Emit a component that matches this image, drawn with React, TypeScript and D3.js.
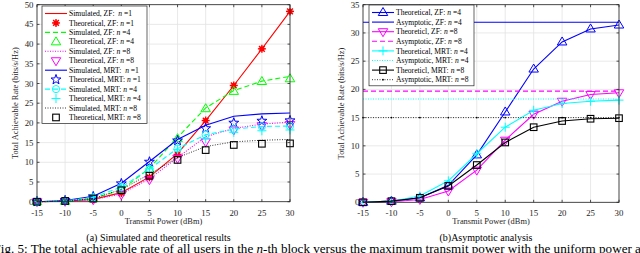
import React from 'react';
import * as d3 from 'd3';

// transmit power (dBm)
const powers = [-15, -10, -5, 0, 5, 10, 15, 20, 25, 30];

// (a) simulated vs theoretical
const simZF1 = [0, 0.1, 0.6, 2.3, 6.3, 12.2, 20.6, 29.5, 38.8, 48.3];
const theoZF1 = [0, 0.1, 0.6, 2.2, 6.2, 12.0, 20.6, 29.5, 38.8, 48.3];
const simZF4 = [0, 0.1, 0.8, 3.0, 8.5, 16.3, 23.8, 28.2, 30.6, 31.8];
const theoZF4 = [0, 0.1, 0.8, 3.0, 8.2, 16.0, 23.6, 28.0, 30.5, 31.2];
const simZF8 = [0, 0.1, 0.5, 2.0, 5.8, 11.2, 16.5, 18.6, 19.7, 20.2];
const theoZF8 = [0, 0.1, 0.5, 1.8, 5.6, 11.0, 15.2, 18.2, 19.3, 19.6];
const simMRT1 = [0, 0.3, 1.4, 4.7, 10.2, 15.8, 19.4, 21.7, 22.3, 22.5];
const theoMRT1 = [0, 0.3, 1.3, 4.6, 10.1, 15.5, 18.6, 20.0, 20.5, 20.6];
const simMRT4 = [0, 0.2, 1.1, 3.7, 8.3, 13.5, 17.0, 18.4, 19.1, 19.2];
const theoMRT4 = [0, 0.2, 1.1, 3.8, 8.3, 13.2, 16.0, 17.6, 18.0, 18.2];
const simMRT8 = [0, 0.2, 0.8, 3.1, 7.0, 11.2, 14.0, 15.2, 15.6, 15.8];
const theoMRT8 = [0, 0.2, 0.8, 2.9, 6.6, 10.6, 13.1, 14.4, 14.7, 14.8];

// (b) asymptotic analysis
const thZF4 = [0, 0.2, 0.8, 3.0, 8.4, 16.0, 23.6, 28.4, 30.7, 31.4];
const thZF8 = [0, 0.1, 0.5, 2.0, 5.7, 11.0, 15.6, 17.9, 19.1, 19.4];
const thMRT4 = [0, 0.2, 1.1, 3.8, 8.6, 13.3, 16.3, 17.5, 17.9, 18.1];
const thMRT8 = [0, 0.2, 0.8, 2.9, 6.6, 10.6, 13.3, 14.4, 14.8, 14.9];
const asymZF4 = 31.9;
const asymZF8 = 19.7;
const asymMRT4 = 18.3;
const asymMRT8 = 15.0;

const ticksA = d3.range(0, 51, 5);
const ticksB = d3.range(0, 36, 5);

const serif = '"Liberation Serif", "Times New Roman", serif';
const RED = '#ff0000', GREEN = '#00ff00', MAG = '#ff00ff', BLUE = '#0000ff', CYAN = '#00ffff', BLK = '#000000';

type MType = 'none' | 'ast' | 'tri' | 'trid' | 'star' | 'circ' | 'plus' | 'sq' | 'dot';

function Marker({ t, x, y, c }: { t: MType; x: number; y: number; c: string }) {
  const sw = 1;
  if (t === 'ast') {
    const r = 4;
    const d = r * 0.72;
    return (
      <g stroke={c} strokeWidth={1.4}>
        <line x1={x - r} y1={y} x2={x + r} y2={y} />
        <line x1={x} y1={y - r} x2={x} y2={y + r} />
        <line x1={x - d} y1={y - d} x2={x + d} y2={y + d} />
        <line x1={x - d} y1={y + d} x2={x + d} y2={y - d} />
        <circle cx={x} cy={y} r={1.8} fill={c} />
      </g>
    );
  }
  if (t === 'tri') {
    const r = 5;
    return <path d={`M${x},${y - r}L${x + r * 0.95},${y + r * 0.6}L${x - r * 0.95},${y + r * 0.6}Z`} fill="none" stroke={c} strokeWidth={sw} />;
  }
  if (t === 'trid') {
    const r = 5;
    return <path d={`M${x},${y + r}L${x + r * 0.95},${y - r * 0.6}L${x - r * 0.95},${y - r * 0.6}Z`} fill="none" stroke={c} strokeWidth={sw} />;
  }
  if (t === 'star') {
    const pts: string[] = [];
    for (let i = 0; i < 10; i++) {
      const r = i % 2 === 0 ? 5.2 : 2.1;
      const a = -Math.PI / 2 + (i * Math.PI) / 5;
      pts.push(`${x + r * Math.cos(a)},${y + r * Math.sin(a)}`);
    }
    return <path d={`M${pts.join('L')}Z`} fill="none" stroke={c} strokeWidth={sw} />;
  }
  if (t === 'circ') return <circle cx={x} cy={y} r={3.6} fill="none" stroke={c} strokeWidth={sw} />;
  if (t === 'plus') {
    const r = 4.5;
    return (
      <g stroke={c} strokeWidth={sw}>
        <line x1={x - r} y1={y} x2={x + r} y2={y} />
        <line x1={x} y1={y - r} x2={x} y2={y + r} />
      </g>
    );
  }
  if (t === 'sq') {
    const r = 3.3;
    return <rect x={x - r} y={y - r} width={2 * r} height={2 * r} fill="none" stroke={c} strokeWidth={1.1} />;
  }
  if (t === 'dot') return <circle cx={x} cy={y} r={0.9} fill={c} />;
  return null;
}

interface Series {
  label: string;
  n: string;
  values: number[];
  color: string;
  dash?: string;
  line: boolean;
  marker: MType;
  width?: number;
}

const seriesA: Series[] = [
  { label: 'Simulated, ZF:  ', n: '1', values: simZF1, color: RED, line: true, marker: 'none' },
  { label: 'Theoretical, ZF: ', n: '1', values: theoZF1, color: RED, line: false, marker: 'ast' },
  { label: 'Simulated, ZF: ', n: '4', values: simZF4, color: GREEN, dash: '5,3', line: true, marker: 'none' },
  { label: 'Theoretical, ZF: ', n: '4', values: theoZF4, color: GREEN, line: false, marker: 'tri' },
  { label: 'Simulated, ZF: ', n: '8', values: simZF8, color: MAG, dash: '1,1.5', line: true, marker: 'none' },
  { label: 'Theoretical, ZF: ', n: '8', values: theoZF8, color: MAG, line: false, marker: 'trid' },
  { label: 'Simulated, MRT:  ', n: '1', values: simMRT1, color: BLUE, line: true, marker: 'none' },
  { label: 'Theoretical, MRT: ', n: '1', values: theoMRT1, color: BLUE, line: false, marker: 'star' },
  { label: 'Simulated, MRT: ', n: '4', values: simMRT4, color: CYAN, dash: '5,3', line: true, marker: 'circ' },
  { label: 'Theoretical, MRT: ', n: '4', values: theoMRT4, color: CYAN, line: false, marker: 'plus' },
  { label: 'Simulated, MRT: ', n: '8', values: simMRT8, color: BLK, dash: '1,1.5', line: true, marker: 'none', width: 0.8 },
  { label: 'Theoretical, MRT: ', n: '8', values: theoMRT8, color: BLK, line: false, marker: 'sq' },
];

const seriesB: Series[] = [
  { label: 'Theoretical, ZF: ', n: '4', values: thZF4, color: BLUE, line: true, marker: 'tri' },
  { label: 'Asymptotic, ZF: ', n: '4', values: powers.map(() => asymZF4), color: BLUE, line: true, marker: 'none' },
  { label: 'Theoreticl, ZF: ', n: '8', values: thZF8, color: MAG, line: true, marker: 'trid' },
  { label: 'Asymptotic, ZF: ', n: '8', values: powers.map(() => asymZF8), color: MAG, dash: '5,3', line: true, marker: 'none' },
  { label: 'Theoretical, MRT: ', n: '4', values: thMRT4, color: CYAN, line: true, marker: 'plus' },
  { label: 'Asymptotic, MRT: ', n: '4', values: powers.map(() => asymMRT4), color: CYAN, dash: '1,1.5', line: true, marker: 'none' },
  { label: 'Theoreticl, MRT: ', n: '8', values: thMRT8, color: BLK, line: true, marker: 'sq' },
  { label: 'Asymptotic, MRT: ', n: '8', values: powers.map(() => asymMRT8), color: BLK, dash: '1,1.5', line: true, marker: 'dot', width: 0.8 },
];

interface PanelProps {
  x0: number; x1: number; y0: number; y1: number;
  yMax: number; yTicks: number[];
  series: Series[];
  legend: { x: number; y: number; w: number; step: number };
  caption: string;
}

function Panel({ x0, x1, y0, y1, yMax, yTicks, series, legend, caption }: PanelProps) {
  const x = d3.scaleLinear().domain([-15, 30]).range([x0, x1]);
  const y = d3.scaleLinear().domain([0, yMax]).range([y1, y0]);
  const line = d3.line<number>().x((_, i) => x(powers[i])).y(v => y(v));
  const axisCol = '#262626';
  const legH = series.length * legend.step + 4;
  return (
    <g fontFamily={serif}>
      {/* grid */}
      {powers.map(p => (
        <line key={'gx' + p} x1={x(p)} x2={x(p)} y1={y0} y2={y1} stroke="#e3e3e3" strokeWidth={0.8} />
      ))}
      {yTicks.map(t => (
        <line key={'gy' + t} x1={x0} x2={x1} y1={y(t)} y2={y(t)} stroke="#e3e3e3" strokeWidth={0.8} />
      ))}
      {/* series */}
      {series.map((s, i) => (
        <g key={'s' + i}>
          {s.line && (
            <path d={line(s.values) || ''} fill="none" stroke={s.color} strokeWidth={s.width ?? 1.1} strokeDasharray={s.dash} />
          )}
          {s.marker !== 'none' && s.values.map((v, j) => <Marker key={j} t={s.marker} x={x(powers[j])} y={y(v)} c={s.color} />)}
        </g>
      ))}
      {/* box */}
      <rect x={x0} y={y0} width={x1 - x0} height={y1 - y0} fill="none" stroke={axisCol} strokeWidth={0.8} />
      {powers.map(p => (
        <g key={'tx' + p}>
          <line x1={x(p)} x2={x(p)} y1={y1} y2={y1 - 2.5} stroke={axisCol} strokeWidth={0.8} />
          <line x1={x(p)} x2={x(p)} y1={y0} y2={y0 + 2.5} stroke={axisCol} strokeWidth={0.8} />
          <text x={x(p)} y={216} textAnchor="middle" fontSize={8.8} fill={axisCol}>{p}</text>
        </g>
      ))}
      {yTicks.map(t => (
        <g key={'ty' + t}>
          <line x1={x0} x2={x0 + 2.5} y1={y(t)} y2={y(t)} stroke={axisCol} strokeWidth={0.8} />
          <line x1={x1} x2={x1 - 2.5} y1={y(t)} y2={y(t)} stroke={axisCol} strokeWidth={0.8} />
          <text x={x0 - 3.5} y={y(t) + 3} textAnchor="end" fontSize={8.8} fill={axisCol}>{t}</text>
        </g>
      ))}
      <text x={(x0 + x1) / 2} y={223.5} textAnchor="middle" fontSize={8.4} fill={axisCol}>Transmit Power (dBm)</text>
      <text transform={`translate(${x0 - 19},${(y0 + y1) / 2}) rotate(-90)`} textAnchor="middle" fontSize={8.4} fill={axisCol}>
        Total Achievable Rate (bits/s/Hz)
      </text>
      {/* legend */}
      <rect x={legend.x} y={legend.y} width={legend.w} height={legH} fill="#fff" stroke={axisCol} strokeWidth={0.7} />
      {series.map((s, i) => {
        const ly = legend.y + 7.5 + i * legend.step;
        const lx0 = legend.x + 3;
        const lx1 = legend.x + 25;
        return (
          <g key={'l' + i}>
            {s.line && <line x1={lx0} x2={lx1} y1={ly} y2={ly} stroke={s.color} strokeWidth={s.width ?? 1.1} strokeDasharray={s.dash} />}
            {s.marker !== 'none' && <Marker t={s.marker} x={(lx0 + lx1) / 2} y={ly} c={s.color} />}
            <text x={lx1 + 2} y={ly + 2.6} fontSize={7.6} fill="#000" style={{ whiteSpace: 'pre' }}>
              {s.label}
              <tspan fontStyle="italic">n</tspan>
              {' =' + s.n}
            </text>
          </g>
        );
      })}
      <text x={(x0 + x1) / 2 - 5} y={240.5} textAnchor="middle" fontSize={10} fill="#000">{caption}</text>
    </g>
  );
}

export default function App() {
  return (
    <svg width={640} height={253} style={{ position: 'absolute', left: 0, top: 0, background: '#fff' }}>
      <rect width={640} height={253} fill="#fff" />
      <Panel x0={37} x1={290} y0={4.7} y1={201.7} yMax={50} yTicks={ticksA} series={seriesA}
        legend={{ x: 42, y: 6, w: 105, step: 9.45 }} caption="(a) Simulated and theoretical results" />
      <Panel x0={363} x1={619} y0={4.7} y1={202.3} yMax={35} yTicks={ticksB} series={seriesB}
        legend={{ x: 369, y: 5, w: 105, step: 9.6 }} caption="(b)Asymptotic analysis" />
      <text x={-6.5} y={252.8} fontFamily={serif} fontSize={13.1} fill="#000" style={{ whiteSpace: 'pre' }}>
        Fig. 5: The total achievable rate of all users in the <tspan fontStyle="italic">n</tspan>-th block versus the maximum transmit power with the uniform power allocation.
      </text>
    </svg>
  );
}
